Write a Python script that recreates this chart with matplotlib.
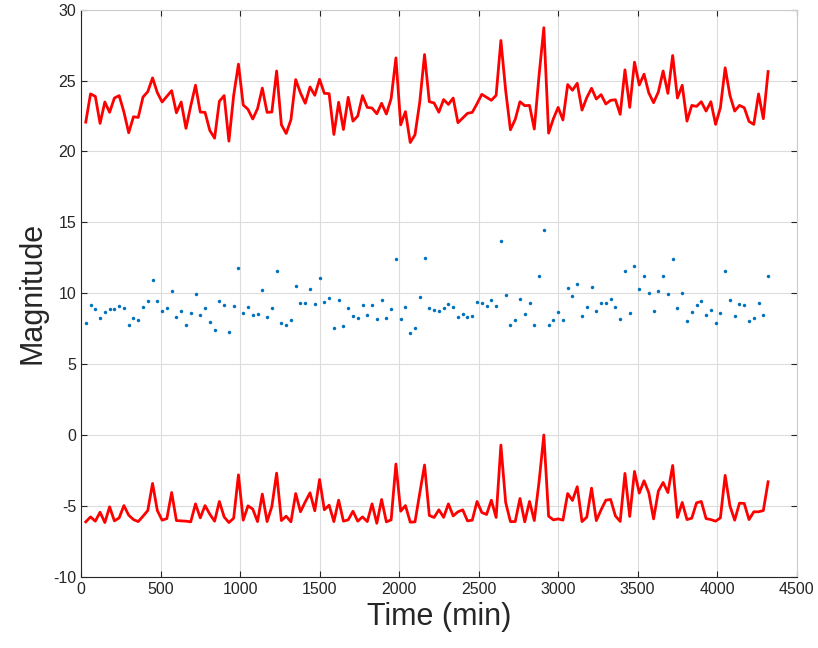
import numpy as np
import matplotlib
matplotlib.use("Agg")
import matplotlib.pyplot as plt

# sample times, every 30 minutes
time_min = np.arange(30, 4321, 30)

magnitude = [
    7.92, 9.17, 8.87, 8.28, 8.65, 8.87, 8.87, 9.08, 8.99, 7.78,
    8.25, 8.14, 9.01, 9.48, 10.94, 9.46, 8.73, 8.99, 10.17, 8.35,
    8.75, 7.73, 8.58, 9.95, 8.44, 8.94, 7.95, 7.38, 9.48, 9.15,
    7.24, 9.08, 11.79, 8.61, 9.03, 8.49, 8.56, 10.20, 8.30, 8.96,
    11.58, 7.90, 7.78, 8.09, 10.54, 9.32, 9.32, 10.28, 9.27, 11.04,
    9.39, 9.65, 7.52, 9.53, 7.71, 8.99, 8.42, 8.23, 9.17, 8.47,
    9.17, 8.21, 9.53, 8.25, 8.91, 12.38, 8.18, 9.01, 7.19, 7.55,
    9.72, 12.45, 8.96, 8.82, 8.75, 8.95, 9.27, 9.06, 8.30, 8.56,
    8.35, 8.40, 9.39, 9.29, 9.10, 9.55, 9.10, 13.66, 9.86, 7.73,
    8.11, 9.60, 8.54, 9.34, 7.76, 11.20, 14.44, 7.78, 8.14, 8.65,
    8.09, 10.35, 9.81, 10.64, 8.40, 9.06, 10.42, 8.77, 9.34, 9.34,
    9.58, 9.06, 8.21, 11.58, 8.63, 11.91, 10.28, 11.18, 10.02, 8.73,
    10.19, 11.23, 9.98, 12.38, 8.94, 10.02, 8.06, 8.70, 9.17, 9.48,
    8.44, 8.82, 7.88, 8.63, 11.58, 9.53, 8.37, 9.27, 9.17, 8.04,
    8.25, 9.34, 8.49, 11.25,
]

upper = [
    22.07, 24.06, 23.89, 21.98, 23.49, 22.76, 23.77, 23.94, 22.78, 21.32,
    22.45, 22.40, 23.84, 24.22, 25.19, 24.15, 23.49, 23.89, 24.29, 22.73,
    23.49, 21.63, 23.21, 24.67, 22.78, 22.76, 21.48, 20.94, 23.54, 23.94,
    20.73, 23.96, 26.16, 23.28, 22.97, 22.29, 23.02, 24.47, 22.76, 22.78,
    25.68, 21.88, 21.27, 22.24, 25.07, 24.13, 23.40, 24.55, 23.96, 25.09,
    24.10, 24.08, 21.20, 23.47, 21.55, 23.82, 22.14, 22.50, 23.94, 23.11,
    23.06, 22.66, 23.40, 22.64, 23.73, 26.60, 21.88, 22.81, 20.63, 21.18,
    23.49, 26.84, 23.51, 23.42, 22.77, 23.66, 23.32, 23.77, 22.03, 22.36,
    22.69, 22.76, 23.37, 24.03, 23.82, 23.61, 23.96, 27.83, 24.30, 21.53,
    22.26, 23.51, 23.23, 23.25, 21.58, 25.38, 28.73, 21.29, 22.31, 23.11,
    22.22, 24.72, 24.32, 24.81, 22.92, 23.80, 24.46, 23.70, 24.01, 23.35,
    23.61, 23.65, 22.62, 25.76, 23.11, 26.30, 24.69, 25.45, 24.13, 23.44,
    24.20, 25.68, 24.10, 26.77, 23.77, 24.67, 22.14, 23.25, 23.18, 23.51,
    22.85, 23.51, 21.91, 23.09, 25.90, 23.96, 22.85, 23.25, 23.09, 22.12,
    21.91, 24.06, 22.31, 25.64,
]

lower = [
    -6.13, -5.78, -6.08, -5.45, -6.18, -5.07, -6.06, -5.85, -4.98, -5.66,
    -5.97, -6.11, -5.73, -5.33, -3.42, -5.33, -6.01, -5.90, -4.06, -6.04,
    -6.06, -6.08, -6.13, -4.86, -5.85, -4.98, -5.59, -6.08, -4.69, -5.78,
    -6.18, -5.87, -2.81, -6.01, -5.00, -5.23, -6.11, -4.17, -6.11, -5.05,
    -2.69, -6.04, -5.73, -6.13, -4.13, -5.42, -4.72, -4.08, -5.35, -3.14,
    -5.28, -4.95, -6.11, -4.60, -6.08, -5.99, -5.38, -6.08, -5.78, -6.11,
    -4.86, -6.23, -4.55, -6.13, -5.99, -2.05, -5.38, -4.98, -6.15, -6.13,
    -4.10, -2.12, -5.68, -5.82, -5.28, -5.81, -4.86, -5.71, -5.42, -5.28,
    -6.06, -6.01, -4.69, -5.47, -5.61, -4.60, -5.82, -0.71, -4.76, -6.11,
    -6.11, -4.48, -6.13, -4.69, -6.04, -3.30, 0.00, -5.73, -5.99, -5.92,
    -6.01, -4.13, -4.62, -3.65, -6.11, -5.80, -3.75, -6.04, -5.28, -4.60,
    -4.55, -5.71, -6.10, -2.71, -5.75, -2.57, -4.10, -3.23, -4.08, -5.92,
    -3.96, -3.35, -4.06, -2.15, -5.82, -4.76, -5.97, -5.87, -4.79, -4.69,
    -5.90, -5.97, -6.08, -5.85, -2.85, -5.00, -6.01, -4.81, -4.83, -5.97,
    -5.42, -5.42, -5.33, -3.30,
]

x_ticks = np.arange(0, 4501, 500)
y_ticks = np.arange(-10, 31, 5)

plt.rcParams['font.family'] = ['Liberation Sans', 'DejaVu Sans']
plt.rcParams['axes.unicode_minus'] = False

fig = plt.figure(figsize=(8.18, 6.48), dpi=100)
ax = fig.add_axes([0.099, 0.110, 0.875, 0.875])

ax.plot(time_min, upper, color='red', lw=2.0)
ax.plot(time_min, lower, color='red', lw=2.0)
ax.plot(time_min, magnitude, 'o', color='#0072BD', markersize=2.5, markeredgewidth=0)

ax.set_xlim(0, 4500)
ax.set_ylim(-10, 30)
ax.set_xticks(x_ticks)
ax.set_yticks(y_ticks)
ax.grid(True, color='#dcdcdc', lw=0.8)
ax.set_axisbelow(True)
ax.tick_params(direction='in', labelsize=11.5, colors='#262626', length=4,
               top=True, right=True)
for sp in ax.spines.values():
    sp.set_color('#262626')
    sp.set_linewidth(0.8)
ax.spines['top'].set_color('#cccccc')
ax.spines['right'].set_color('#cccccc')

ax.set_xlabel('Time (min)', fontsize=22, color='#262626')
ax.set_ylabel('Magnitude', fontsize=22, color='#262626')

fig.savefig('out.png', dpi=100)
